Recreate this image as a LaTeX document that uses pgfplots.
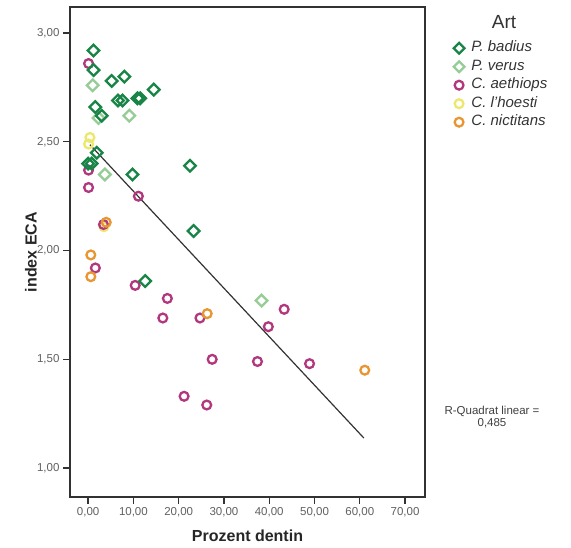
\documentclass[border=0pt]{standalone}
\usepackage{fontspec}
\setmainfont{Liberation Sans}
\usepackage{pgfplots}
\pgfplotsset{compat=1.18}
\definecolor{dgreen}{RGB}{24,132,70}
\definecolor{lgreen}{RGB}{150,205,150}
\definecolor{magen}{RGB}{178,56,126}
\definecolor{yell}{RGB}{236,232,110}
\definecolor{orng}{RGB}{232,150,50}
\definecolor{frame}{RGB}{50,50,50}
\begin{document}
\begin{tikzpicture}[x=1pt,y=1pt]
\useasboundingbox (0,0) rectangle (571,548);
\begin{axis}[
  at={(70pt,51pt)}, anchor=south west,
  width=355pt, height=490pt, scale only axis,
  xmin=-4, xmax=74.4, ymin=0.867, ymax=3.12,
  clip=false,
  xtick={0,10,...,70}, ytick={1,1.5,2,2.5,3},
  xtick pos=left, ytick pos=left,
  tick align=outside, major tick length=7pt,
  axis line style={draw=frame, line width=1.3pt},
  tick style={draw=frame, line width=1.3pt},
  ticklabel style={font=\fontsize{11.5}{13}\selectfont, text=black!62},
  /pgf/number format/.cd, fixed, fixed zerofill, precision=2, use comma, assume math mode=true,
  /pgfplots/.cd,
  xlabel={Prozent dentin},
  xlabel style={font=\bfseries\fontsize{16}{18}\selectfont, text=black!85, at={(axis description cs:0.5,0)}, anchor=center, yshift=-39pt},
  ylabel={index ECA},
  ylabel style={font=\bfseries\fontsize{16}{18}\selectfont, text=black!85, at={(axis description cs:-0.11,0.5)}, anchor=center},
  legend style={at={(axis description cs:1,1)}, anchor=north west, xshift=28.5pt, yshift=-32.5pt,
    draw=none, fill=none, font=\itshape\fontsize{15}{17}\selectfont, text=black!80,
    row sep=1.5pt, inner sep=0pt, nodes={inner sep=2pt, text height=10pt, text depth=3pt},
    /tikz/every odd column/.append style={column sep=5pt}},
  legend cell align=left,
]
\addlegendimage{only marks, mark=square, mark size=3.8pt, mark options={rotate=45, draw=dgreen, line width=2.3pt, fill=none}}
\addlegendentry{P. badius}
\addlegendimage{only marks, mark=square, mark size=3.8pt, mark options={rotate=45, draw=lgreen, line width=2.3pt, fill=none}}
\addlegendentry{P. verus}
\addlegendimage{only marks, mark=o, mark size=4.4pt, mark options={draw=magen, line width=2.3pt, fill=none}}
\addlegendentry{C. aethiops}
\addlegendimage{only marks, mark=o, mark size=4.4pt, mark options={draw=yell, line width=2.3pt, fill=none}}
\addlegendentry{C. l'hoesti}
\addlegendimage{only marks, mark=o, mark size=4.4pt, mark options={draw=orng, line width=2.3pt, fill=none}}
\addlegendentry{C. nictitans}

% C. l'hoesti
\addplot[forget plot, only marks, mark=o, mark size=4.4pt, mark options={draw=yell, line width=2.3pt, fill=none}]
coordinates {(0.4,2.52) (0.1,2.49) (3.5,2.11)};
% C. aethiops
\addplot[forget plot, only marks, mark=o, mark size=4.4pt, mark options={draw=magen, line width=2.3pt, fill=none}]
coordinates {
(0.1,2.86) (0.1,2.37) (0.1,2.29) (11.1,2.25) (3.4,2.12) (1.6,1.92) (10.4,1.84)
(17.5,1.78) (16.5,1.69) (24.7,1.69) (39.8,1.65) (43.3,1.73) (27.4,1.50) (37.4,1.49)
(48.9,1.48) (21.2,1.33) (26.2,1.29)};
% P. verus
\addplot[forget plot, only marks, mark=square, mark size=4.1pt, mark options={rotate=45, draw=lgreen, line width=2.3pt, fill=none}]
coordinates {(1.0,2.76) (2.3,2.61) (9.1,2.62) (3.7,2.35) (38.3,1.77)};
% P. badius
\addplot[forget plot, only marks, mark=square, mark size=4.1pt, mark options={rotate=45, draw=dgreen, line width=2.3pt, fill=none}]
coordinates {
(1.2,2.92) (1.2,2.83) (5.2,2.78) (8.0,2.80) (14.5,2.74) (6.6,2.69) (7.6,2.69)
(10.9,2.70) (11.5,2.70) (1.6,2.66) (3.0,2.62) (1.9,2.45) (0.0,2.40) (0.8,2.40)
(9.8,2.35) (22.5,2.39) (23.3,2.09) (12.6,1.86)};
% C. nictitans
\addplot[forget plot, only marks, mark=o, mark size=4.4pt, mark options={draw=orng, line width=2.3pt, fill=none}]
coordinates {(4.0,2.13) (0.6,1.98) (0.6,1.88) (26.3,1.71) (61.1,1.45)};
% fit line
\addplot[forget plot, draw=black!80, line width=1.2pt] coordinates {(0.4,2.487) (60.9,1.138)};

\node[font=\fontsize{19}{21}\selectfont, text=black!80] at ([xshift=79pt, yshift=-15pt]rel axis cs:1,1) {Art};
\node[align=center, font=\fontsize{11.5}{12.5}\selectfont, text=black!75] at ([xshift=67pt, yshift=80pt]rel axis cs:1,0) {R-Quadrat linear =\\0,485};
\end{axis}
\end{tikzpicture}
\end{document}
